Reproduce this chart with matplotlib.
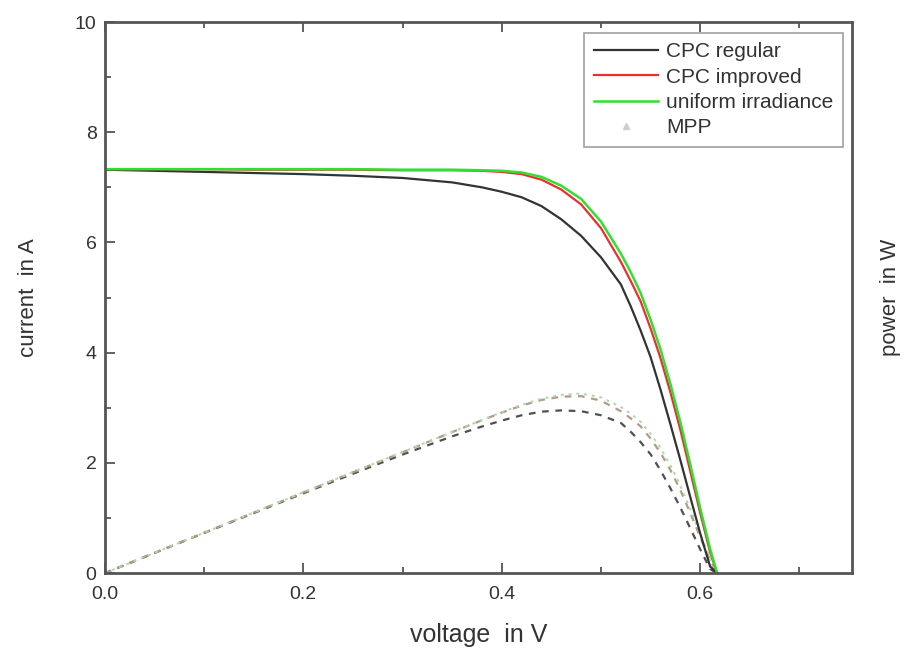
import matplotlib
matplotlib.use("Agg")
import matplotlib.pyplot as plt
from matplotlib.lines import Line2D
from matplotlib.ticker import MultipleLocator

plt.rcParams['font.family'] = ['Liberation Sans', 'DejaVu Sans']

# voltage grid in V
voltage = [0.0, 0.05, 0.1, 0.15, 0.2, 0.25, 0.3, 0.35, 0.38, 0.40, 0.42, 0.44, 0.46,
           0.48, 0.50, 0.52, 0.53, 0.54, 0.55, 0.56, 0.57, 0.58, 0.59, 0.60, 0.61, 0.617]

# current in A
i_regular = [7.32, 7.30, 7.28, 7.26, 7.24, 7.21, 7.17, 7.09, 7.00, 6.92, 6.82, 6.66, 6.42,
             6.12, 5.73, 5.24, 4.84, 4.40, 3.92, 3.33, 2.70, 2.05, 1.38, 0.72, 0.12, 0.0]
i_improved = [7.33, 7.33, 7.33, 7.32, 7.32, 7.32, 7.31, 7.31, 7.30, 7.28, 7.24, 7.14, 6.96,
              6.69, 6.26, 5.65, 5.30, 4.93, 4.44, 3.90, 3.28, 2.60, 1.85, 1.09, 0.38, 0.0]
i_uniform = [7.33, 7.33, 7.33, 7.33, 7.33, 7.33, 7.32, 7.32, 7.31, 7.30, 7.27, 7.19, 7.03,
             6.79, 6.38, 5.80, 5.46, 5.08, 4.60, 4.06, 3.43, 2.74, 1.97, 1.18, 0.44, 0.0]

# power in W
p_regular = [0.0, 0.365, 0.728, 1.089, 1.448, 1.803, 2.151, 2.482, 2.660, 2.768, 2.864, 2.930,
             2.953, 2.938, 2.865, 2.725, 2.565, 2.376, 2.156, 1.865, 1.539, 1.189, 0.814,
             0.432, 0.073, 0.0]
p_improved = [0.0, 0.367, 0.733, 1.098, 1.464, 1.830, 2.193, 2.559, 2.774, 2.912, 3.041, 3.142,
              3.202, 3.211, 3.130, 2.938, 2.809, 2.662, 2.442, 2.184, 1.870, 1.508, 1.092,
              0.654, 0.232, 0.0]
p_uniform = [0.0, 0.367, 0.733, 1.100, 1.466, 1.833, 2.196, 2.562, 2.778, 2.920, 3.053, 3.164,
             3.234, 3.259, 3.190, 3.016, 2.894, 2.743, 2.530, 2.274, 1.955, 1.589, 1.162,
             0.708, 0.268, 0.0]

labels = ["CPC regular", "CPC improved", "uniform irradiance", "MPP"]

frame_col = "#555555"
text_col = "#333333"

fig = plt.figure(figsize=(9.04, 6.55), dpi=100)
ax = fig.add_axes([0.116, 0.125, 0.8265, 0.8414])

ax.plot(voltage, p_regular, color="#505050", lw=1.6, ls=(0, (3, 3)))
ax.plot(voltage, p_improved, color="#b89888", lw=1.6, ls=(0, (3, 3)))
ax.plot(voltage, p_uniform, color="#a8dca8", lw=1.4, ls=(0, (1.5, 2.5)))

ax.plot(voltage, i_regular, color="#333333", lw=1.6)
ax.plot(voltage, i_improved, color="#e83030", lw=1.6)
ax.plot(voltage, i_uniform, color="#30e030", lw=1.8, zorder=2.5)

ax.set_xlim(0, 0.753)
ax.set_ylim(0, 10)
ax.xaxis.set_major_locator(MultipleLocator(0.2))
ax.xaxis.set_minor_locator(MultipleLocator(0.1))
ax.yaxis.set_major_locator(MultipleLocator(2))
ax.yaxis.set_minor_locator(MultipleLocator(1))
ax.xaxis.set_major_formatter(plt.FuncFormatter(lambda v, p: "%.1f" % v))
ax.tick_params(which="both", direction="in", top=True, right=True, colors=frame_col,
               labelcolor=text_col, labelsize=14, width=1.3)
ax.tick_params(which="major", length=7)
ax.tick_params(which="minor", length=4)
ax.tick_params(axis="x", pad=9)
ax.tick_params(axis="y", pad=6)
for s in ax.spines.values():
    s.set_color(frame_col)
    s.set_linewidth(2)

ax.set_xlabel("voltage  in V", fontsize=18, color=text_col, labelpad=15)
ax.set_ylabel("current  in A", fontsize=16, color=text_col, labelpad=26)

ax2 = ax.twinx()
ax2.set_ylim(0, 10)
ax2.yaxis.set_major_locator(MultipleLocator(2))
ax2.yaxis.set_minor_locator(MultipleLocator(1))
ax2.tick_params(which="both", direction="in", labelright=False, length=0)
ax2.set_ylabel("power  in W", fontsize=16, color=text_col, labelpad=20)
for s in ax2.spines.values():
    s.set_visible(False)

handles = [Line2D([], [], color="#333333", lw=1.6),
           Line2D([], [], color="#e83030", lw=1.6),
           Line2D([], [], color="#30e030", lw=1.8),
           Line2D([], [], color="#d8c8d0", lw=0, marker="^", markersize=5)]
leg = ax.legend(handles, labels, loc="upper right", fontsize=15, frameon=True,
                fancybox=False, edgecolor="#888888", bbox_to_anchor=(0.988, 0.98),
                borderaxespad=0.0, borderpad=0.45, handlelength=3.1, handletextpad=0.4,
                labelspacing=0.3)
leg.get_frame().set_linewidth(1.2)
for t in leg.get_texts():
    t.set_color(text_col)

fig.savefig("out.png", dpi=100, facecolor="white")
